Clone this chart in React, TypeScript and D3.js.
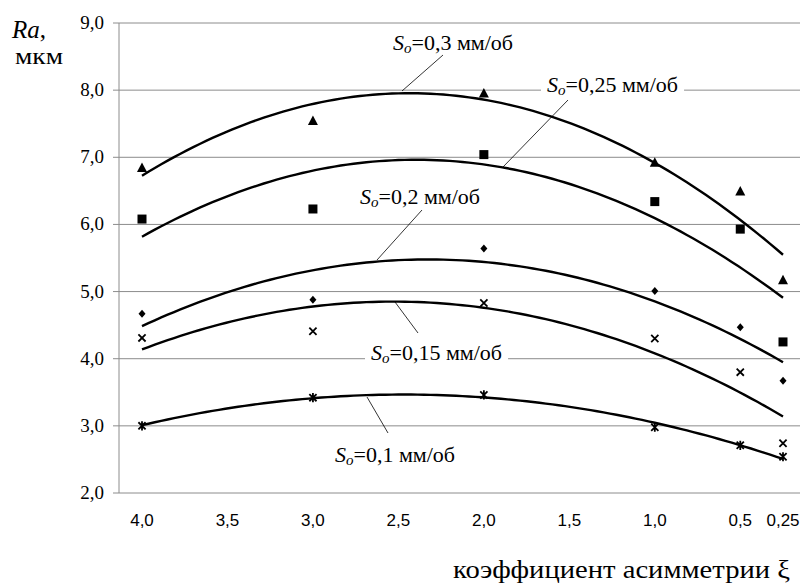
import * as d3 from "d3";
import { useRef, useEffect } from "react";

// chart size and plot frame
const width = 802;
const height = 586;
const plotLeft = 119;
const plotRight = 800;

// data
const xi = [4, 3, 2, 1, 0.5, 0.25];
const feed03 = [6.84, 7.54, 7.95, 6.92, 6.49, 5.17];
const feed025 = [6.08, 6.23, 7.04, 6.34, 5.93, 4.25];
const feed02 = [4.67, 4.88, 5.64, 5.01, 4.47, 3.67];
const feed015 = [4.31, 4.41, 4.83, 4.3, 3.8, 2.74];
const feed01 = [3.0, 3.42, 3.46, 2.98, 2.71, 2.54];

const xTicks = [4, 3.5, 3, 2.5, 2, 1.5, 1, 0.5, 0.25];
const xTickLabels = ["4,0", "3,5", "3,0", "2,5", "2,0", "1,5", "1,0", "0,5", "0,25"];
const yTicks = [2, 3, 4, 5, 6, 7, 8, 9];
const yTickLabels = ["2,0", "3,0", "4,0", "5,0", "6,0", "7,0", "8,0", "9,0"];

const series = [
  { name: "0,3", values: feed03, marker: "triangle" },
  { name: "0,25", values: feed025, marker: "square" },
  { name: "0,2", values: feed02, marker: "diamond" },
  { name: "0,15", values: feed015, marker: "cross" },
  { name: "0,1", values: feed01, marker: "star" },
];

// label placement (pixels) and leader lines
const notes = [
  { name: "0,3", x: 393, y: 50, box: false, line: [443, 55, 402, 91] },
  { name: "0,25", x: 547, y: 92, box: true, line: [568, 100, 503, 167] },
  { name: "0,2", x: 360, y: 204, box: false, line: [422, 210, 377, 260] },
  { name: "0,15", x: 371, y: 360, box: true, line: [418, 333, 395, 302] },
  { name: "0,1", x: 335, y: 462, box: false, line: [388, 433, 367, 397] },
];

const serif = "'Liberation Serif', 'Times New Roman', 'DejaVu Serif', serif";
const narrow = "'Liberation Sans Narrow', 'Liberation Sans', Arial, sans-serif";

// least squares 2nd order polynomial (the trendline)
function fitQuad(xs: number[], ys: number[]) {
  const s = [0, 0, 0, 0, 0];
  const t = [0, 0, 0];
  xs.forEach((x, i) => {
    for (let k = 0; k < 5; k++) s[k] += Math.pow(x, k);
    for (let k = 0; k < 3; k++) t[k] += ys[i] * Math.pow(x, k);
  });
  const m = [
    [s[0], s[1], s[2]],
    [s[1], s[2], s[3]],
    [s[2], s[3], s[4]],
  ];
  const det = (a: number[][]) =>
    a[0][0] * (a[1][1] * a[2][2] - a[1][2] * a[2][1]) -
    a[0][1] * (a[1][0] * a[2][2] - a[1][2] * a[2][0]) +
    a[0][2] * (a[1][0] * a[2][1] - a[1][1] * a[2][0]);
  const D = det(m);
  const coef = [0, 1, 2].map((c) => {
    const mc = m.map((row, r) => row.map((v, j) => (j === c ? t[r] : v)));
    return det(mc) / D;
  });
  return (x: number) => coef[0] + coef[1] * x + coef[2] * x * x;
}

const App = () => {
  const ref = useRef<SVGSVGElement>(null);

  useEffect(() => {
    if (!ref.current) return;
    const svg = d3.select(ref.current);
    svg.selectAll("*").remove();

    const x = d3.scaleLinear().domain([4, 0.25]).range([142, 783]);
    const y = d3.scaleLinear().domain([2, 9]).range([493, 23]);

    // horizontal grid
    svg.append("g")
      .selectAll("line")
      .data(yTicks)
      .enter()
      .append("line")
      .attr("x1", plotLeft - 6)
      .attr("x2", plotRight)
      .attr("y1", (d) => y(d))
      .attr("y2", (d) => y(d))
      .attr("stroke", "#8c8c8c")
      .attr("stroke-width", 1);

    // y axis line
    svg.append("line")
      .attr("x1", plotLeft).attr("x2", plotLeft)
      .attr("y1", y(9)).attr("y2", y(2))
      .attr("stroke", "#8c8c8c");

    // y tick labels
    svg.append("g")
      .selectAll("text")
      .data(yTicks)
      .enter()
      .append("text")
      .attr("x", 104)
      .attr("y", (d) => y(d) + 6)
      .attr("text-anchor", "end")
      .style("font-family", serif)
      .style("font-size", "19px")
      .text((d, i) => yTickLabels[i]);

    // x tick labels
    svg.append("g")
      .selectAll("text")
      .data(xTicks)
      .enter()
      .append("text")
      .attr("x", (d) => x(d))
      .attr("y", 526)
      .attr("text-anchor", "middle")
      .style("font-family", narrow)
      .style("font-size", "17px")
      .text((d, i) => xTickLabels[i]);

    // axis titles
    const ra = svg.append("text").attr("x", 12).attr("y", 38)
      .style("font-family", serif).style("font-size", "25px");
    ra.append("tspan").style("font-style", "italic").text("Ra");
    ra.append("tspan").text(",");
    svg.append("text").attr("x", 15).attr("y", 64)
      .style("font-family", serif).style("font-size", "23px")
      .attr("textLength", 48).attr("lengthAdjust", "spacingAndGlyphs")
      .text("мкм");
    svg.append("text")
      .attr("x", 453).attr("y", 578)
      .style("font-family", serif)
      .style("font-size", "25px")
      .attr("textLength", 337).attr("lengthAdjust", "spacingAndGlyphs")
      .text("коэффициент асимметрии ξ");

    // trend curves
    const line = d3.line<number>().x((d) => x(d)).curve(d3.curveLinear);
    const samples = d3.range(0, 101).map((i) => 4 - (i * 3.75) / 100);
    series.forEach((s) => {
      const f = fitQuad(xi, s.values);
      svg.append("path")
        .attr("d", line.y((d) => y(f(d)))(samples))
        .attr("fill", "none")
        .attr("stroke", "#000")
        .attr("stroke-width", 2.4);
    });

    // markers
    series.forEach((s) => {
      const g = svg.append("g");
      s.values.forEach((v, i) => {
        const cx = x(xi[i]);
        const cy = y(v);
        if (s.marker === "triangle") {
          g.append("path").attr("d", `M${cx},${cy - 5.5}L${cx + 5},${cy + 4}L${cx - 5},${cy + 4}Z`).attr("fill", "#000");
        } else if (s.marker === "square") {
          g.append("rect").attr("x", cx - 4.5).attr("y", cy - 4.5).attr("width", 9).attr("height", 9).attr("fill", "#000");
        } else if (s.marker === "diamond") {
          g.append("path").attr("d", `M${cx},${cy - 4}L${cx + 3.5},${cy}L${cx},${cy + 4}L${cx - 3.5},${cy}Z`).attr("fill", "#000");
        } else {
          const r = 3.6;
          g.append("path")
            .attr("d", `M${cx - r},${cy - r}L${cx + r},${cy + r}M${cx - r},${cy + r}L${cx + r},${cy - r}` + (s.marker === "star" ? `M${cx},${cy - r - 1}L${cx},${cy + r + 1}` : ""))
            .attr("stroke", "#000")
            .attr("stroke-width", 1.8)
            .attr("fill", "none");
        }
      });
    });

    // labels with leader lines
    notes.forEach((n) => {
      svg.append("line")
        .attr("x1", n.line[0]).attr("y1", n.line[1])
        .attr("x2", n.line[2]).attr("y2", n.line[3])
        .attr("stroke", "#000")
        .attr("stroke-width", 0.8);
      const bg = svg.append("rect").attr("fill", "#fff");
      const t = svg.append("text")
        .attr("x", n.x).attr("y", n.y)
        .style("font-family", serif)
        .style("font-size", "22px");
      t.append("tspan").style("font-style", "italic").text("S");
      t.append("tspan").style("font-style", "italic").style("font-size", "15px").attr("dy", 3).text("o");
      t.append("tspan").attr("dy", -3).text(`=${n.name} мм/об`);
      if (n.box) {
        const b = (t.node() as SVGTextElement).getBBox();
        bg.attr("x", b.x - 6).attr("y", b.y).attr("width", b.width + 12).attr("height", b.height);
      } else {
        bg.remove();
      }
    });
  }, []);

  return (
    <svg
      ref={ref}
      width={width}
      height={height}
      style={{ position: "absolute", left: 0, top: 0, background: "#fff" }}
    />
  );
};

export default App;
